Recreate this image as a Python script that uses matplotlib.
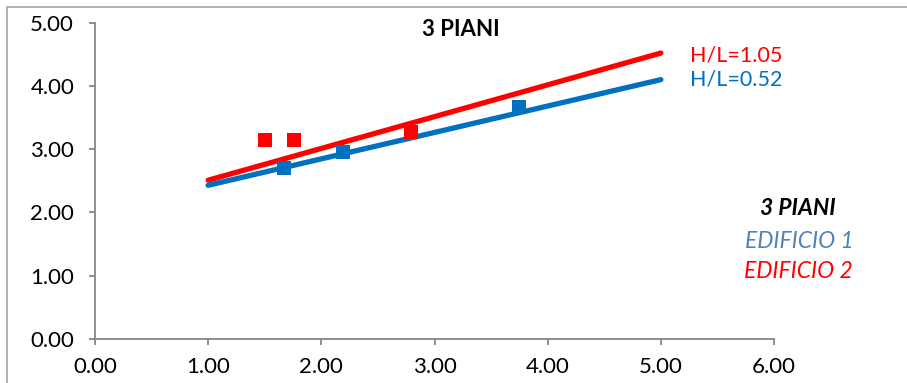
import matplotlib
matplotlib.use("Agg")
import matplotlib.pyplot as plt
from matplotlib.patches import Rectangle

plt.rcParams['font.family'] = ['Lato', 'DejaVu Sans']

# Trend lines (H/L ratio), drawn between their end points
line_x = [1.0, 5.0]
red_line_y = [2.51, 4.52]
blue_line_y = [2.43, 4.10]

# Measured points
edificio2_x = [1.50, 1.76, 2.79]
edificio2_y = [3.14, 3.14, 3.27]
edificio1_x = [1.67, 2.19, 3.75]
edificio1_y = [2.70, 2.96, 3.66]

x_ticks = [0, 1, 2, 3, 4, 5, 6]
y_ticks = [0, 1, 2, 3, 4, 5]

RED = "#FF0000"
BLUE = "#0070C0"
LIGHTBLUE = "#4F81BD"
AXIS = "#868686"

fig = plt.figure(figsize=(9.07, 3.83), dpi=100)
W, H = 907, 383
ax = fig.add_axes([95 / W, 1 - 339 / H, (774 - 95) / W, (339 - 22.7) / H])

ax.plot(line_x, red_line_y, color=RED, lw=3.8, solid_capstyle='round', zorder=3)
ax.plot(line_x, blue_line_y, color=BLUE, lw=3.8, solid_capstyle='round', zorder=3)
ax.plot(edificio2_x, edificio2_y, 's', color=RED, ms=10, mew=0, zorder=4)
ax.plot(edificio1_x, edificio1_y, 's', color=BLUE, ms=10, mew=0, zorder=4)

ax.set_xlim(0, 6)
ax.set_ylim(0, 5)
ax.set_xticks(x_ticks)
ax.set_yticks(y_ticks)
ax.set_xticklabels([f"{v:.2f}" for v in x_ticks])
ax.set_yticklabels([f"{v:.2f}" for v in y_ticks])
ax.tick_params(axis='both', direction='out', length=4, width=1.3, color=AXIS,
               labelsize=16, labelcolor='black')
ax.tick_params(axis='x', pad=9)
ax.tick_params(axis='y', pad=11)
for side in ('top', 'right'):
    ax.spines[side].set_visible(False)
for side in ('left', 'bottom'):
    ax.spines[side].set_color(AXIS)
    ax.spines[side].set_linewidth(1.3)

# Titles and annotations
fig.text(461 / W, 1 - 29 / H, "3 PIANI", ha='center', va='center',
         fontsize=16, fontweight='bold')
fig.text(690 / W, 1 - 55 / H, "H/L=1.05", ha='left', va='center',
         fontsize=15.5, color=RED)
fig.text(690 / W, 1 - 80 / H, "H/L=0.52", ha='left', va='center',
         fontsize=15.5, color=BLUE)
fig.text(798 / W, 1 - 208 / H, "3 PIANI", ha='center', va='center',
         fontsize=16.5, fontweight='bold', style='italic')
fig.text(799 / W, 1 - 241 / H, "EDIFICIO 1", ha='center', va='center',
         fontsize=16.5, style='italic', color=LIGHTBLUE)
fig.text(798 / W, 1 - 272 / H, "EDIFICIO 2", ha='center', va='center',
         fontsize=16.5, style='italic', color=RED)

# Chart frame
fig.patches.append(Rectangle((7 / W, -0.02), (W - 7) / W + 0.02, 1 - 7 / H + 0.02,
                             transform=fig.transFigure, fill=False,
                             edgecolor="#A6A6A6", lw=1.2))

fig.savefig("out.png", dpi=100)
